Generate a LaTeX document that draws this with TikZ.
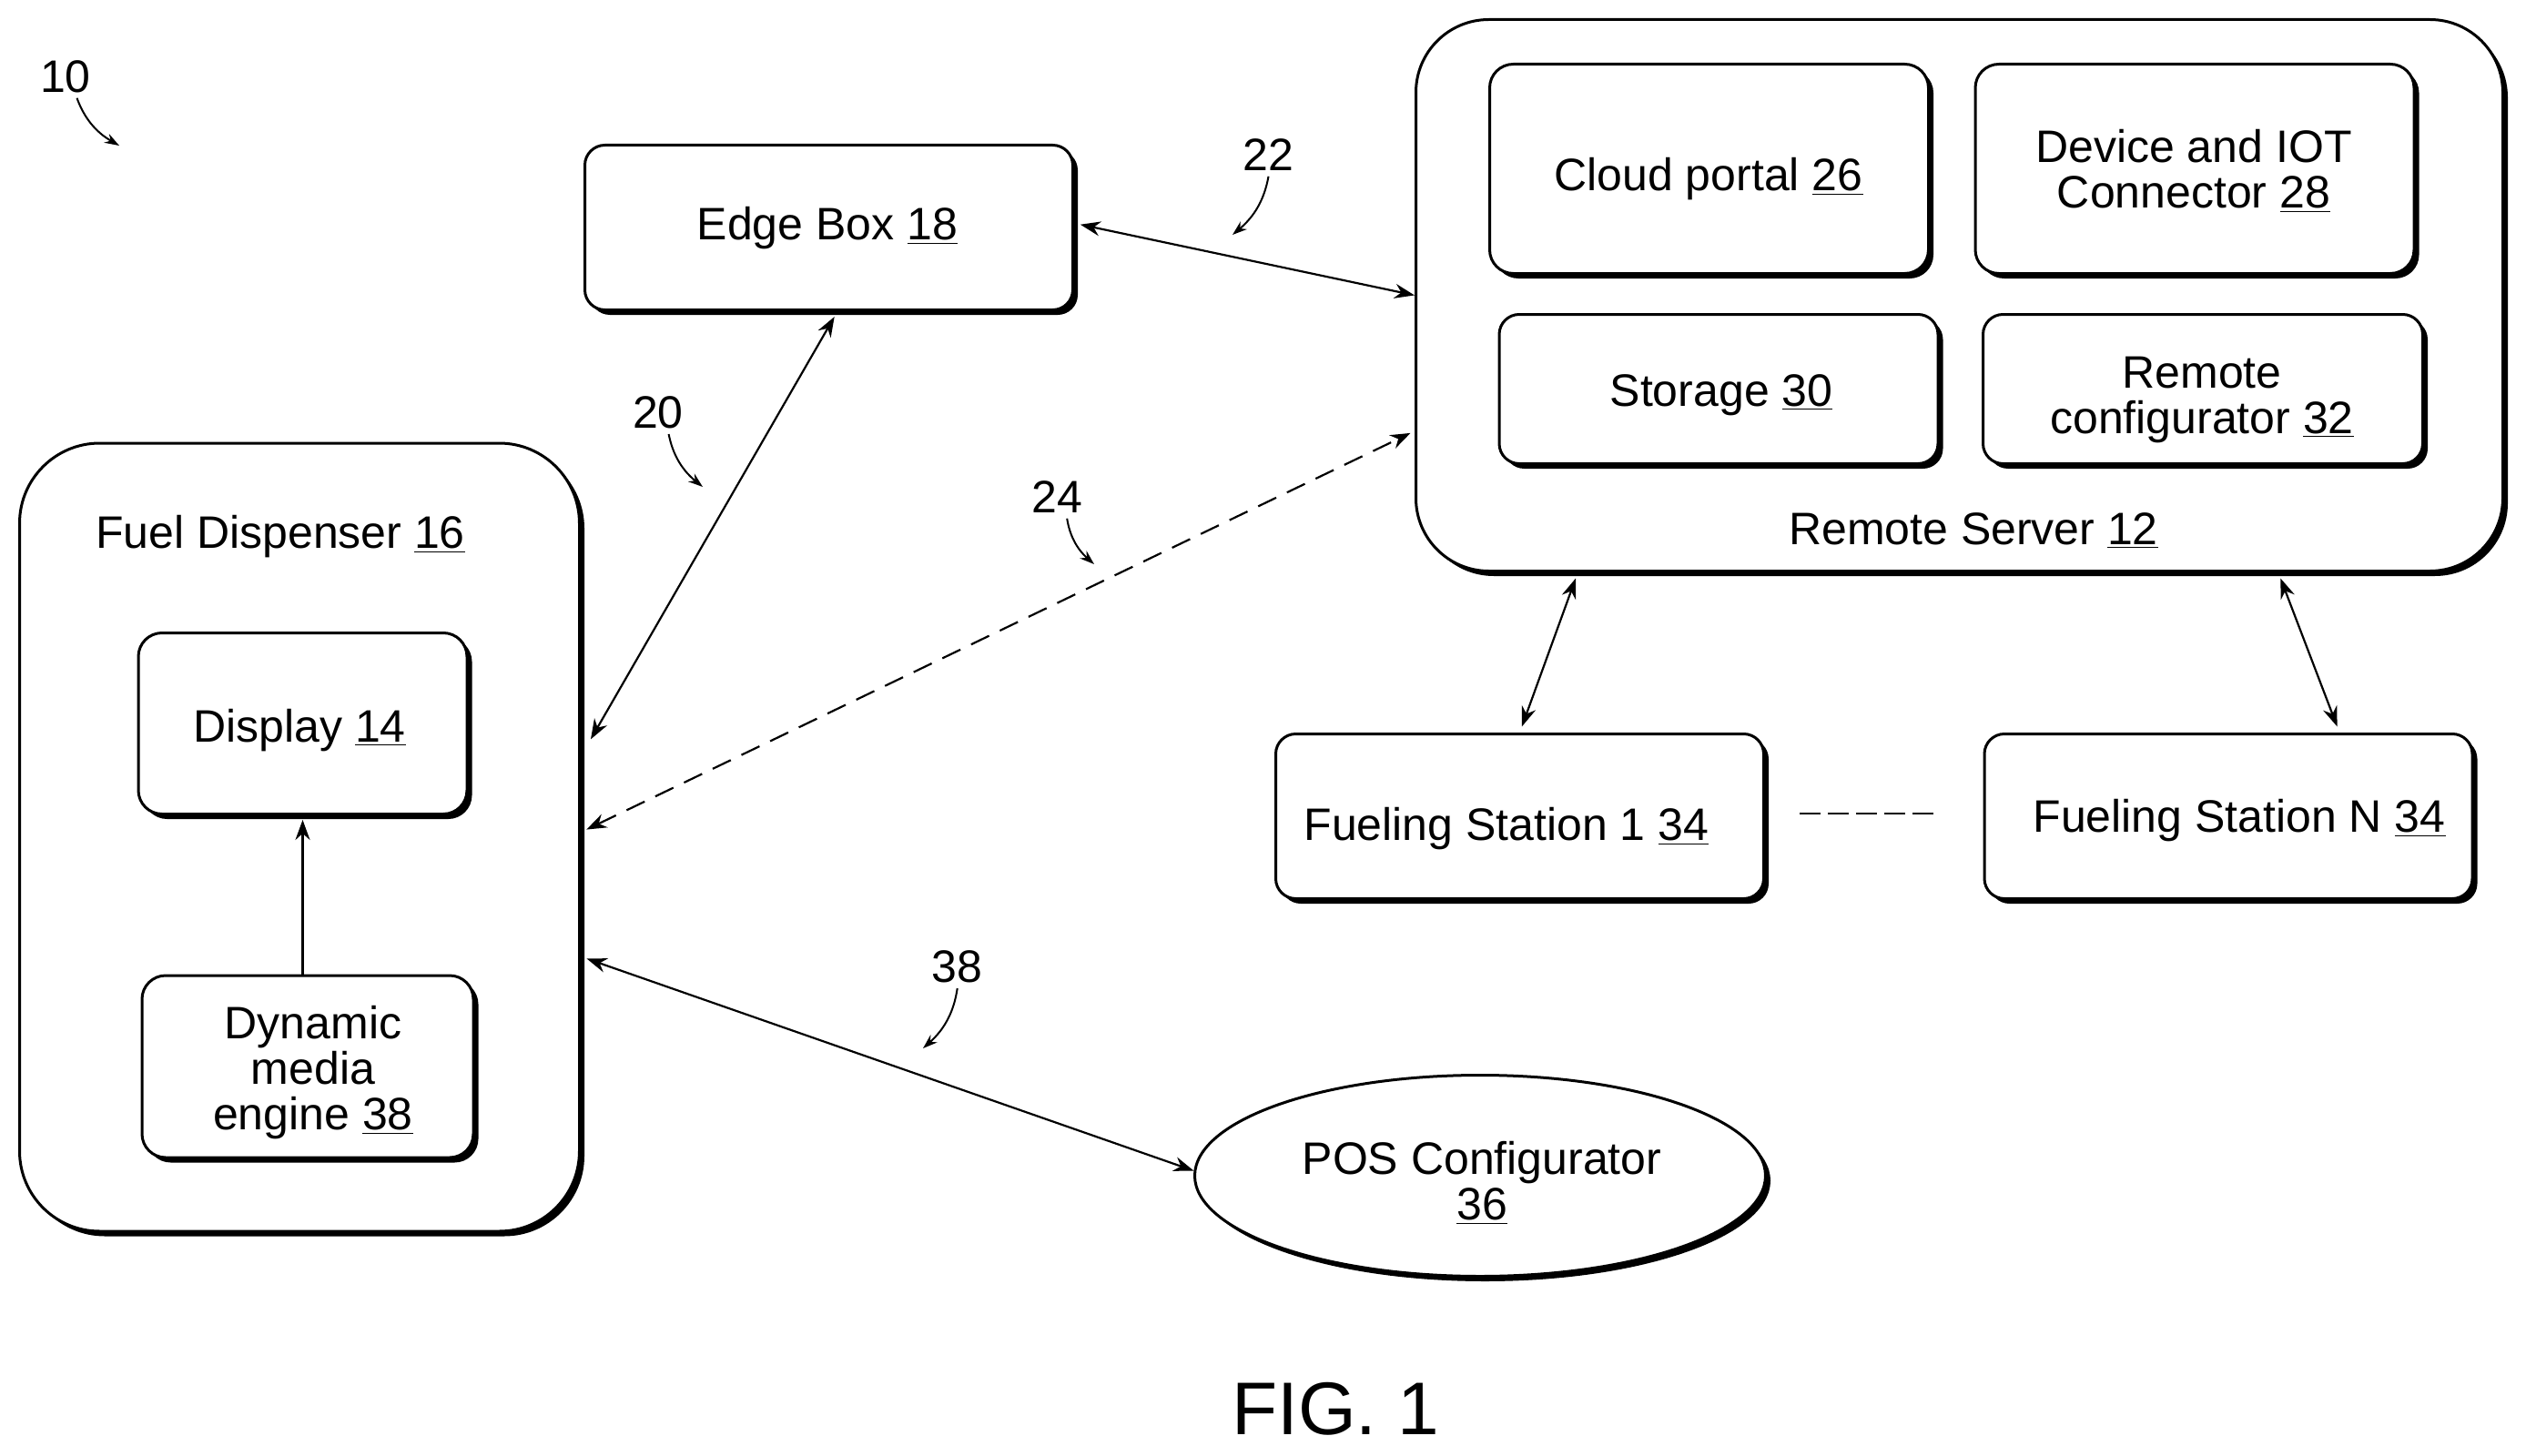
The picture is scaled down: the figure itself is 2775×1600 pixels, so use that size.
\documentclass[tikz,border=0pt]{standalone}
\usepackage{fontspec}
\setmainfont{Liberation Sans}
\usepackage{tikz}
\usetikzlibrary{arrows.meta}
\usetikzlibrary{shadows}
\usetikzlibrary{shapes.geometric}
\newcommand{\refnum}[1]{\underline{#1}}
\tikzstyle{unit}=[draw, line width=1.5pt, fill=white, inner sep=0, drop shadow={shadow xshift=2.75pt, shadow yshift=-2.75pt, fill=black, opacity=1}]
\tikzstyle{bigunit}=[unit, rectangle, rounded corners=40pt]
\tikzstyle{midunit}=[unit, rectangle, rounded corners=13pt]
\tikzstyle{smallunit}=[unit, rectangle, rounded corners=11pt]
\tikzstyle{ovalunit}=[unit, ellipse]
\tikzstyle{txt}=[inner sep=0, yshift=-2.5pt, align=center, font=\fontsize{25}{25}\selectfont]
\tikzstyle{refmark}=[inner sep=0, font=\fontsize{25}{25}\selectfont]
\tikzstyle{link}=[line width=1.1pt, shorten <=3.5pt, shorten >=3.5pt, >={Stealth[length=11pt, width=8pt]}, <->]
\tikzstyle{dashlink}=[link, dash pattern=on 11pt off 6.5pt]
\tikzstyle{oneway}=[line width=1.1pt, shorten >=2.5pt, >={Stealth[length=11pt, width=8pt]}, ->]
\tikzstyle{lead}=[line width=1pt, shorten <=3pt, >={Stealth[length=8pt, width=5.5pt]}, ->]
\begin{document}
\begin{tikzpicture}[x=0.5pt, y=-0.5pt]
        \useasboundingbox (0, 0) rectangle (2775, 1600);
        % Remote server and what sits in it.
        \node[bigunit, minimum width=597pt, minimum height=303pt] (server) at (2152.5, 324.5) {};
        \node[midunit, minimum width=241pt, minimum height=115pt] (cloud) at (1877.5, 185.5) {};
        \node[midunit, minimum width=241pt, minimum height=115pt] (device) at (2411, 185.5) {};
        \node[smallunit, minimum width=241pt, minimum height=82pt] (storage) at (1888, 427.5) {};
        \node[smallunit, minimum width=241.5pt, minimum height=82pt] (config) at (2420, 427.5) {};
        % Fuel dispenser.
        \node[bigunit, rounded corners=44pt, minimum width=307.5pt, minimum height=433pt] (fuel) at (329, 920) {};
        \node[midunit, minimum width=180.5pt, minimum height=99.5pt] (display) at (332.5, 795) {};
        \node[midunit, minimum width=182pt, minimum height=100pt] (engine) at (338, 1172) {};
        % The others.
        \node[smallunit, minimum width=268pt, minimum height=90.5pt] (edge) at (910.5, 250) {};
        \node[smallunit, minimum width=268pt, minimum height=90.5pt] (station1) at (1669.5, 897) {};
        \node[smallunit, minimum width=268pt, minimum height=90.5pt] (stationN) at (2448, 897) {};
        \node[ovalunit, minimum width=313.5pt, minimum height=110.5pt] (pos) at (1626, 1292) {};
        % Texts.
        \node[txt] (servertxt) at (2168, 578) {Remote Server \refnum{12}};
        \node[txt] (cloudtxt) at (1877, 192) {Cloud portal \refnum{26}};
        \node[txt] (devicetxt) at (2410, 183) {Device and IOT\\Connector \refnum{28}};
        \node[txt] (storagetxt) at (1891, 429) {Storage \refnum{30}};
        \node[txt] (configtxt) at (2419, 434) {Remote\\configurator \refnum{32}};
        \node[txt] (fueltxt) at (308, 585) {Fuel Dispenser \refnum{16}};
        \node[txt] (displaytxt) at (329, 798) {Display \refnum{14}};
        \node[txt] (enginetxt) at (344, 1174) {Dynamic\\media\\engine \refnum{38}};
        \node[txt] (edgetxt) at (909, 246) {Edge Box \refnum{18}};
        \node[txt] (station1txt) at (1655, 906) {Fueling Station 1 \refnum{34}};
        \node[txt] (stationNtxt) at (2460, 897) {Fueling Station N \refnum{34}};
        \node[txt] (postxt) at (1628, 1295) {POS Configurator\\\refnum{36}};
        \node[inner sep=0, font=\fontsize{41}{41}\selectfont] (figtxt) at (1467, 1548) {FIG. 1};
        % Connectors.
        \draw[oneway] (engine.north -| display.south) -- (display.south);
        \draw[link, shorten <=11pt] (fuel.16.1) -- (edge.-84.8);
        \draw[link, shorten >=0pt] (edge.1.1) -- (server.west);
        \draw[dashlink, shorten >=2.5pt] (fuel.1.2) -- (server.194);
        \draw[link, shorten >=0pt] (fuel.-23.1) -- (pos.179);
        \draw[link] (server.216.85) -- (station1.north);
        \draw[link] (server.-41.8) -- (stationN.37);
        \draw[line width=0.75pt, shorten <=19pt, shorten >=27pt, dash pattern=on 11.5pt off 4pt] ([yshift=1.5pt]station1.east) -- ([yshift=1.5pt]stationN.west);
        % Reference marks.
        \node[refmark] (mark10) at (72, 84) {10};
        \node[refmark] (mark20) at (723, 453) {20};
        \node[refmark] (mark22) at (1393, 170) {22};
        \node[refmark] (mark24) at (1161, 546) {24};
        \node[refmark] (mark38) at (1051, 1062) {38};
        \coordinate (end10) at (131, 160);
        \coordinate (end20) at (772, 535);
        \coordinate (end22) at (1354, 258);
        \coordinate (end24) at (1202, 620);
        \coordinate (end38) at (1014, 1152);
        \draw[lead] (mark10.-60) to[bend right=20] (end10);
        \draw[lead] (mark20.-60) to[bend right=20] (end20);
        \draw[lead] (mark22.-85) to[bend left=20] (end22);
        \draw[lead] (mark24.-60) to[bend right=20] (end24);
        \draw[lead] (mark38.-85) to[bend left=20] (end38);
    \end{tikzpicture}
\end{document}
